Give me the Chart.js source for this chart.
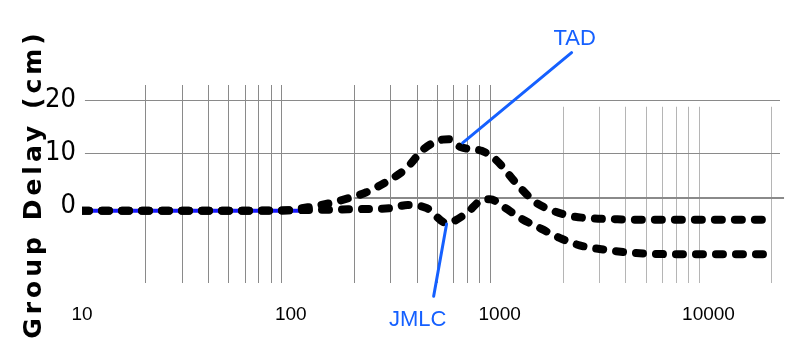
<!DOCTYPE html>
<html>
<head>
<meta charset="utf-8">
<script src="https://cdn.jsdelivr.net/npm/chart.js@4/dist/chart.umd.min.js"></script>
<style>
  html, body { margin: 0; padding: 0; background: #fff; }
  #c { display: block; }
</style>
</head>
<body>
<canvas id="c" width="797" height="354"></canvas>
<script>
// ---- data ----
const freqTAD  = [10, 20, 50, 100, 110, 140, 190, 230, 285, 355, 435, 530, 570, 650, 820, 960, 1200, 1480, 1800, 2200, 2700, 3400, 5000, 10000, 20000];
const delayTAD = [-0.9, -0.9, -0.9, -0.8, -0.5, 0.2, 1.5, 2.6, 4.5, 7.0, 10.8, 12.5, 12.6, 11.1, 10.4, 8.7, 4.3, 0.75, -0.9, -1.9, -2.3, -2.45, -2.6, -2.6, -2.6];

const freqJMLC  = [10, 20, 50, 100, 200, 300, 363, 448, 557, 687, 830, 900, 1030, 1273, 1585, 1935, 2414, 3008, 4674, 9060, 20000];
const delayJMLC = [-0.9, -0.9, -0.9, -0.8, -0.6, -0.4, 0.2, -0.4, -3.2, -1.5, 1.2, 1.3, 0.0, -2.4, -4.3, -6.0, -7.4, -8.1, -8.9, -9.1, -9.1];

// blue trace visible under the dashes at low frequency
const freqBlue  = [10, 110];
const delayBlue = [-0.9, -0.9];

const xTickValues = [10, 100, 1000, 10000];
const yTickValues = [0, 10, 20];

const gridDarkFreqs  = [20, 30, 40, 50, 60, 70, 80, 90, 200, 300, 400, 500, 600, 700, 800, 900];
const gridLightFreqs = [2000, 3000, 4000, 5000, 6000, 7000, 8000, 9000, 20000];

const yAxisTitle = 'Group Delay (cm)';
const labelTAD = 'TAD';
const labelJMLC = 'JMLC';

// ---- build ----
const pts = (xs, ys) => xs.map((x, i) => ({ x: x, y: ys[i] }));

const Y_MIN = -14.5, Y_MAX = 22.8;

const gridPlugin = {
  id: 'customGrid',
  beforeDatasetsDraw(chart) {
    const { ctx, scales: { x, y } } = chart;
    ctx.save();
    ctx.lineWidth = 1;
    ctx.strokeStyle = '#8a8a8a';
    gridDarkFreqs.forEach(f => {
      const px = Math.round(x.getPixelForValue(f)) + 0.5;
      ctx.beginPath();
      ctx.moveTo(px, y.getPixelForValue(Y_MAX));
      ctx.lineTo(px, y.getPixelForValue(Y_MIN));
      ctx.stroke();
    });
    ctx.strokeStyle = '#b5b5b5';
    gridLightFreqs.forEach(f => {
      const px = Math.round(x.getPixelForValue(f)) + 0.5;
      ctx.beginPath();
      ctx.moveTo(px, y.getPixelForValue(18.7));
      ctx.lineTo(px, y.getPixelForValue(Y_MIN));
      ctx.stroke();
    });
    ctx.strokeStyle = '#8a8a8a';
    [[20, 10.33, 22000, 1], [10, 10.33, 22000, 1], [1.5, 200, 23000, 2]].forEach(h => {
      const py = Math.round(y.getPixelForValue(h[0])) + (h[3] === 1 ? 0.5 : 0);
      ctx.lineWidth = h[3];
      ctx.beginPath();
      ctx.moveTo(x.getPixelForValue(h[1]), py);
      ctx.lineTo(x.getPixelForValue(h[2]), py);
      ctx.stroke();
    });
    ctx.restore();
  }
};

const annotPlugin = {
  id: 'callouts',
  afterDatasetsDraw(chart) {
    const { ctx, scales: { x, y } } = chart;
    const blue = '#1560ff';
    ctx.save();
    ctx.strokeStyle = blue;
    ctx.lineWidth = 3;
    ctx.lineCap = 'round';
    const seg = (f1, v1, f2, v2) => {
      ctx.beginPath();
      ctx.moveTo(x.getPixelForValue(f1), y.getPixelForValue(v1));
      ctx.lineTo(x.getPixelForValue(f2), y.getPixelForValue(v2));
      ctx.stroke();
    };
    seg(2210, 28.9, 665, 11.9);
    seg(483, -17.0, 557, -3.4);
    ctx.fillStyle = blue;
    ctx.font = '22px "Liberation Sans", Arial, sans-serif';
    ctx.textAlign = 'center';
    ctx.textBaseline = 'alphabetic';
    ctx.fillText(labelTAD, x.getPixelForValue(2285), y.getPixelForValue(30.4));
    ctx.fillText(labelJMLC, x.getPixelForValue(405), y.getPixelForValue(-22.6));
    ctx.restore();
  }
};

const spacingPlugin = {
  id: 'titleSpacing',
  beforeDraw(chart) {
    const s = chart.scales.y;
    if (s && !s.__wrapped) {
      const orig = s.drawTitle.bind(s);
      s.drawTitle = function () {
        const ctx = chart.ctx;
        ctx.save();
        ctx.letterSpacing = '4px';
        orig();
        ctx.restore();
      };
      s.__wrapped = true;
    }
  }
};

const dashStyle = {
  borderColor: '#000',
  borderWidth: 8,
  borderDash: [7, 13],
  borderCapStyle: 'round',
  pointRadius: 0,
  fill: false,
  cubicInterpolationMode: 'monotone',
  order: 0
};

new Chart(document.getElementById('c'), {
  type: 'line',
  data: {
    datasets: [
      Object.assign({ label: labelTAD, data: pts(freqTAD, delayTAD) }, dashStyle),
      Object.assign({ label: labelJMLC, data: pts(freqJMLC, delayJMLC) }, dashStyle),
      { label: 'trace', data: pts(freqBlue, delayBlue), borderColor: '#1818ff', borderWidth: 4,
        pointRadius: 0, fill: false, order: 1 }
    ]
  },
  options: {
    responsive: false,
    animation: false,
    layout: { padding: { left: 0, right: 17, top: 85, bottom: 0 } },
    plugins: { legend: { display: false }, tooltip: { enabled: false } },
    scales: {
      x: {
        type: 'logarithmic',
        min: 10,
        max: 22000,
        border: { display: false },
        grid: { display: false, drawTicks: false },
        afterBuildTicks: (s) => { s.ticks = xTickValues.map(v => ({ value: v })); },
        afterFit: (s) => { s.height = 71; },
        ticks: {
          autoSkip: false,
          maxRotation: 0,
          padding: 20,
          color: '#000',
          font: { family: '"Liberation Sans", Arial, sans-serif', size: 19 },
          callback: (v) => String(v)
        }
      },
      y: {
        type: 'linear',
        min: Y_MIN,
        max: Y_MAX,
        border: { display: false },
        grid: { display: false, drawTicks: false },
        afterBuildTicks: (s) => { s.ticks = yTickValues.map(v => ({ value: v })); },
        afterFit: (s) => { s.width = 82; },
        ticks: {
          padding: 6,
          color: '#000',
          font: { family: '"Liberation Sans Narrow", "DejaVu Sans Condensed", sans-serif', size: 27 },
          callback: (v) => String(v)
        },
        title: {
          display: true,
          text: yAxisTitle,
          color: '#000',
          padding: { top: 19, bottom: 0 },
          font: { family: '"DejaVu Sans", Verdana, sans-serif', size: 25, weight: 'bold' }
        }
      }
    }
  },
  plugins: [gridPlugin, annotPlugin, spacingPlugin]
});
</script>
</body>
</html>
